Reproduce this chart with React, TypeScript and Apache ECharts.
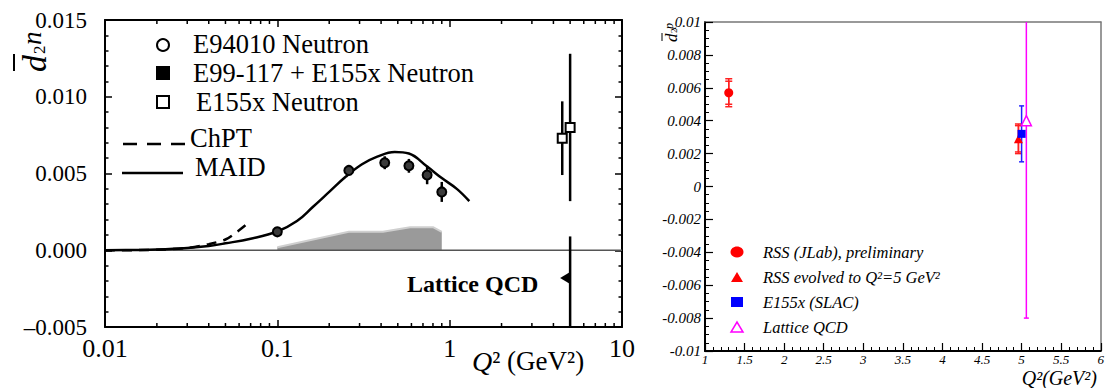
import React, { useEffect, useRef } from 'react';
import * as echarts from 'echarts';

// ---------- Left panel data ----------
const maidQ2 = [0.01, 0.015, 0.02, 0.03, 0.04, 0.05, 0.07, 0.1, 0.13, 0.16, 0.2, 0.25, 0.31, 0.38, 0.48, 0.58, 0.74, 0.9, 1.1, 1.3];
const maidD2 = [0, 0.00002, 0.00005, 0.00015, 0.00028, 0.00045, 0.00075, 0.00122, 0.0019, 0.0028, 0.0038, 0.0048, 0.0056, 0.0061, 0.0064, 0.0063, 0.00545, 0.0047, 0.004, 0.0032];
const chptQ2 = [0.01, 0.02, 0.03, 0.04, 0.05, 0.06, 0.07];
const chptD2 = [0, 0.00003, 0.00015, 0.0004, 0.0007, 0.0013, 0.0019];
const bandQ2 = [0.1, 0.26, 0.41, 0.59, 0.8, 0.9];
const bandD2 = [0.0002, 0.0012, 0.0012, 0.0015, 0.0015, 0.0012];
const e94010Q2 = [0.1, 0.26, 0.42, 0.58, 0.74, 0.9];
const e94010D2 = [0.0012, 0.0052, 0.0057, 0.0055, 0.0049, 0.0038];
const e94010Err = [0.0001, 0.0002, 0.00042, 0.00045, 0.0006, 0.00065];
const e155nQ2 = [4.5, 5.0];
const e155nD2 = [0.0073, 0.008];
const e155nErr = [0.0024, 0.0048];
const latticeNQ2 = [5.0];
const latticeND2 = [-0.0018];
const latticeNErrPlus = [0.0027];
const latticeNErrMinus = [0.0035];
const logMinorTicks = [0.02, 0.03, 0.04, 0.05, 0.06, 0.07, 0.08, 0.09, 0.2, 0.3, 0.4, 0.5, 0.6, 0.7, 0.8, 0.9, 2, 3, 4, 5, 6, 7, 8, 9];
const leftXTickLabels = ['0.01', '0.1', '1', '10'];

// ---------- Right panel data ----------
const rssQ2 = [1.3];
const rssD2 = [0.0057];
const rssStat = [0.0007];
const rssTot = [0.00085];
const rssEvQ2 = [4.96];
const rssEvD2 = [0.0029];
const rssEvStat = [0.0008];
const rssEvTot = [0.0009];
const e155pQ2 = [5.0];
const e155pD2 = [0.0032];
const e155pErr = [0.0017];
const latticePQ2 = [5.06];
const latticePD2 = [0.004];
const latticePErr = [0.012];

const SERIF = 'Liberation Serif, serif';

const zip = (xs: number[], ys: number[]) => xs.map((x, i) => [x, ys[i]]);

function errBars(xIdx: number, yIdx: number, xs: number[], ys: number[], minus: number[], plus: number[], color: string, width: number, cap: number, z: number) {
  return {
    type: 'custom',
    xAxisIndex: xIdx,
    yAxisIndex: yIdx,
    clip: true,
    silent: true,
    z,
    data: xs.map((x, i) => [x, ys[i] - minus[i], ys[i] + plus[i]]),
    encode: { x: 0, y: [1, 2] },
    renderItem: (params: any, api: any) => {
      const x = api.value(0), lo = api.value(1), hi = api.value(2);
      const a = api.coord([x, lo]);
      const b = api.coord([x, hi]);
      const st = { stroke: color, lineWidth: width };
      const children: any[] = [{ type: 'line', shape: { x1: a[0], y1: a[1], x2: b[0], y2: b[1] }, style: st }];
      if (cap > 0) {
        children.push({ type: 'line', shape: { x1: a[0] - cap, y1: a[1], x2: a[0] + cap, y2: a[1] }, style: st });
        children.push({ type: 'line', shape: { x1: b[0] - cap, y1: b[1], x2: b[0] + cap, y2: b[1] }, style: st });
      }
      return { type: 'group', children };
    },
  };
}

function txt(x: number, y: number, text: string, size: number, opts: any = {}) {
  return {
    type: 'text', x, y,
    style: {
      text,
      fontFamily: SERIF,
      fontSize: size,
      fontStyle: opts.italic ? 'italic' : 'normal',
      fontWeight: opts.bold ? 'bold' : 'normal',
      fill: '#000',
      align: opts.align || 'left',
      verticalAlign: 'middle',
      textAlign: opts.align || 'left',
      textVerticalAlign: 'middle',
    },
  };
}

const axisBlack = { show: true, onZero: false, lineStyle: { color: '#000', width: 2 } };

const option: any = {
  animation: false,
  backgroundColor: '#fff',
  textStyle: { fontFamily: SERIF },
  grid: [
    { left: 105, top: 20, width: 517, height: 307 },
    { left: 705, top: 22, width: 398, height: 329 },
  ],
  xAxis: [
    {
      gridIndex: 0, type: 'log', logBase: 10, min: 0.01, max: 10, position: 'bottom',
      axisLine: axisBlack,
      axisTick: { show: true, inside: true, length: 7, lineStyle: { color: '#000', width: 1.5 } },
      axisLabel: {
        fontFamily: SERIF, fontSize: 26, color: '#000', margin: 8,
        formatter: (v: number) => (v < 0.03 ? leftXTickLabels[0] : v < 0.3 ? leftXTickLabels[1] : v < 3 ? leftXTickLabels[2] : leftXTickLabels[3]),
      },
      splitLine: { show: false },
    },
    {
      gridIndex: 0, type: 'log', logBase: 10, min: 0.01, max: 10, position: 'top',
      axisLine: axisBlack,
      axisTick: { show: true, inside: true, length: 7, lineStyle: { color: '#000', width: 1.5 } },
      axisLabel: { show: false },
      splitLine: { show: false },
    },
    {
      gridIndex: 1, type: 'value', min: 1, max: 6, interval: 0.5, position: 'bottom',
      axisLine: axisBlack,
      axisTick: { show: true, inside: true, length: 8, lineStyle: { color: '#000', width: 1.2 } },
      minorTick: { show: true, splitNumber: 5, length: 4, lineStyle: { color: '#000', width: 1 } },
      axisLabel: { fontFamily: SERIF, fontStyle: 'italic', fontSize: 13, color: '#000', margin: 2 },
      splitLine: { show: false },
    },
    {
      gridIndex: 1, type: 'value', min: 1, max: 6, position: 'top',
      axisLine: { show: true, onZero: false, lineStyle: { color: '#777', width: 1.5 } },
      axisTick: { show: false }, axisLabel: { show: false }, splitLine: { show: false },
    },
  ],
  yAxis: [
    {
      gridIndex: 0, type: 'value', min: -0.005, max: 0.015, interval: 0.005,
      axisLine: axisBlack,
      axisTick: { show: true, inside: true, length: 7, lineStyle: { color: '#000', width: 1.5 } },
      minorTick: { show: true, splitNumber: 5, length: 3.5, lineStyle: { color: '#000', width: 1.5 } },
      axisLabel: {
        fontFamily: SERIF, fontSize: 23, color: '#000', margin: 18,
        formatter: (v: number) => (v < 0 ? '\u2013' + (-v).toFixed(3) : v.toFixed(3)),
      },
      splitLine: { show: false },
    },
    {
      gridIndex: 0, type: 'value', min: -0.005, max: 0.015, interval: 0.005, position: 'right',
      axisLine: axisBlack,
      axisTick: { show: true, inside: true, length: 7, lineStyle: { color: '#000', width: 1.5 } },
      minorTick: { show: true, splitNumber: 5, length: 3.5, lineStyle: { color: '#000', width: 1.5 } },
      axisLabel: { show: false },
      splitLine: { show: false },
    },
    {
      gridIndex: 1, type: 'value', min: -0.01, max: 0.01, interval: 0.002,
      axisLine: axisBlack,
      axisTick: { show: true, inside: true, length: 8, lineStyle: { color: '#000', width: 1.2 } },
      minorTick: { show: true, splitNumber: 4, length: 4, lineStyle: { color: '#000', width: 1 } },
      axisLabel: { fontFamily: SERIF, fontStyle: 'italic', fontSize: 15, color: '#000', margin: 4 },
      splitLine: { show: false },
    },
    {
      gridIndex: 1, type: 'value', min: -0.01, max: 0.01, position: 'right',
      axisLine: { show: true, onZero: false, lineStyle: { color: '#777', width: 1.5 } },
      axisTick: { show: false }, axisLabel: { show: false }, splitLine: { show: false },
    },
  ],
  series: [
    {
      name: 'band', type: 'line', xAxisIndex: 0, yAxisIndex: 0, data: zip(bandQ2, bandD2),
      symbol: 'none', silent: true, z: 1,
      lineStyle: { color: '#cfcfcf', width: 2 },
      areaStyle: { color: '#9a9a9a', opacity: 1, origin: 'auto' },
    },
    {
      name: 'zero', type: 'line', xAxisIndex: 0, yAxisIndex: 0, data: [[0.01, 0], [10, 0]],
      symbol: 'none', silent: true, z: 2, lineStyle: { color: '#555', width: 1.5 },
    },
    {
      name: 'ChPT', type: 'line', xAxisIndex: 0, yAxisIndex: 0, data: zip(chptQ2, chptD2),
      symbol: 'none', smooth: 0.3, z: 3, lineStyle: { color: '#000', width: 2.5, type: [10, 7] },
    },
    {
      name: 'MAID', type: 'line', xAxisIndex: 0, yAxisIndex: 0, data: zip(maidQ2, maidD2),
      symbol: 'none', smooth: 0.4, z: 3, lineStyle: { color: '#000', width: 2.5 },
    },
    errBars(0, 0, e94010Q2, e94010D2, e94010Err, e94010Err, '#000', 2.5, 0, 4),
    {
      name: 'E94010 Neutron', type: 'scatter', xAxisIndex: 0, yAxisIndex: 0, data: zip(e94010Q2, e94010D2),
      symbol: 'circle', symbolSize: 9, z: 5,
      itemStyle: { color: '#3a3a3a', borderColor: '#000', borderWidth: 2, opacity: 1 },
    },
    errBars(0, 0, e155nQ2, e155nD2, e155nErr, e155nErr, '#000', 2.5, 0, 4),
    {
      name: 'E155x Neutron', type: 'scatter', xAxisIndex: 0, yAxisIndex: 0, data: zip(e155nQ2, e155nD2),
      symbol: 'rect', symbolSize: 9, z: 5,
      itemStyle: { color: '#fff', borderColor: '#000', borderWidth: 2, opacity: 1 },
    },
    errBars(0, 0, latticeNQ2, latticeND2, latticeNErrMinus, latticeNErrPlus, '#000', 2.5, 0, 4),
    {
      name: 'Lattice QCD (n)', type: 'scatter', xAxisIndex: 0, yAxisIndex: 0, data: zip(latticeNQ2, latticeND2),
      symbol: 'triangle', symbolSize: [12, 10], symbolRotate: 90, symbolOffset: [-5, 0], z: 5,
      itemStyle: { color: '#000', opacity: 1 },
    },
    {
      name: 'logMinor', type: 'custom', xAxisIndex: 0, yAxisIndex: 0, silent: true, clip: false, z: 6,
      data: logMinorTicks.map((v) => [v, 0]),
      encode: { x: 0, y: 1 },
      renderItem: (params: any, api: any) => {
        const x = api.value(0);
        const b = api.coord([x, -0.005]);
        const t = api.coord([x, 0.015]);
        const st = { stroke: '#000', lineWidth: 1.5 };
        return {
          type: 'group',
          children: [
            { type: 'line', shape: { x1: b[0], y1: b[1], x2: b[0], y2: b[1] - 4 }, style: st },
            { type: 'line', shape: { x1: t[0], y1: t[1], x2: t[0], y2: t[1] + 4 }, style: st },
          ],
        };
      },
    },
    // ---- right panel ----
    errBars(2, 2, rssQ2, rssD2, rssTot, rssTot, '#ff2020', 1.5, 3.5, 4),
    errBars(2, 2, rssQ2, rssD2, rssStat, rssStat, '#ff2020', 1.5, 3.5, 4),
    {
      name: 'RSS (JLab), preliminary', type: 'scatter', xAxisIndex: 2, yAxisIndex: 2, data: zip(rssQ2, rssD2),
      symbol: 'circle', symbolSize: 9, z: 5, itemStyle: { color: '#ff0000', opacity: 1 },
    },
    errBars(2, 2, rssEvQ2, rssEvD2, rssEvTot, rssEvTot, '#ff2020', 1.5, 3.5, 4),
    errBars(2, 2, rssEvQ2, rssEvD2, rssEvStat, rssEvStat, '#ff2020', 1.5, 3.5, 4),
    {
      name: 'RSS evolved to Q²=5 GeV²', type: 'scatter', xAxisIndex: 2, yAxisIndex: 2, data: zip(rssEvQ2, rssEvD2),
      symbol: 'triangle', symbolSize: 9, z: 5, itemStyle: { color: '#ff0000', opacity: 1 },
    },
    errBars(2, 2, e155pQ2, e155pD2, e155pErr, e155pErr, '#2020ff', 1.5, 2.5, 4),
    {
      name: 'E155x (SLAC)', type: 'scatter', xAxisIndex: 2, yAxisIndex: 2, data: zip(e155pQ2, e155pD2),
      symbol: 'rect', symbolSize: 8, z: 5, itemStyle: { color: '#0000ff', opacity: 1 },
    },
    errBars(2, 2, latticePQ2, latticePD2, latticePErr, latticePErr, '#ff00ff', 1.5, 2.5, 4),
    {
      name: 'Lattice QCD', type: 'scatter', xAxisIndex: 2, yAxisIndex: 2, data: zip(latticePQ2, latticePD2),
      symbol: 'triangle', symbolSize: 10, z: 5,
      itemStyle: { color: '#fff', borderColor: '#ff00ff', borderWidth: 1.5, opacity: 1 },
    },
  ],
  graphic: [
    // left y title
    {
      type: 'group', x: 47, y: 72, rotation: Math.PI / 2,
      children: [
        txt(0, -13, 'd', 34, { italic: true }),
        { type: 'line', shape: { x1: 1, y1: -33, x2: 18, y2: -33 }, style: { stroke: '#000', lineWidth: 2 } },
        txt(18, -8, '2', 17),
        txt(27, -15, 'n', 27, { italic: true }),
      ],
    },
    // left legend
    { type: 'circle', shape: { cx: 163, cy: 45, r: 6 }, style: { fill: '#fff', stroke: '#000', lineWidth: 2 } },
    { type: 'rect', shape: { x: 156, y: 66, width: 14, height: 14 }, style: { fill: '#000' } },
    { type: 'rect', shape: { x: 157, y: 96, width: 12, height: 12 }, style: { fill: '#fff', stroke: '#000', lineWidth: 2 } },
    { type: 'line', shape: { x1: 123, y1: 144, x2: 186, y2: 144 }, style: { stroke: '#000', lineWidth: 2.5, lineDash: [14, 10] } },
    { type: 'line', shape: { x1: 122, y1: 173, x2: 183, y2: 173 }, style: { stroke: '#000', lineWidth: 2.5 } },
    txt(193, 44, 'E94010 Neutron', 26.5),
    txt(193, 73, 'E99-117 + E155x Neutron', 26.5),
    txt(196, 102, 'E155x Neutron', 26.5),
    txt(190, 138, 'ChPT', 26.5),
    txt(195, 167, 'MAID', 26.5),
    txt(407, 284, 'Lattice QCD', 24, { bold: true }),
    // left x title
    {
      type: 'text', x: 472, y: 361,
      style: {
        text: '{i|Q}{r|² (GeV²)}', fill: '#000', align: 'left', verticalAlign: 'middle', textAlign: 'left', textVerticalAlign: 'middle',
        rich: {
          i: { fontFamily: SERIF, fontStyle: 'italic', fontSize: 28, fill: '#000' },
          r: { fontFamily: SERIF, fontSize: 27, fill: '#000' },
        },
      },
    },
    // right y title
    {
      type: 'group', x: 677, y: 42, rotation: Math.PI / 2,
      children: [
        txt(0, -6, 'd', 17, { italic: true }),
        { type: 'line', shape: { x1: 1, y1: -15, x2: 9, y2: -15 }, style: { stroke: '#000', lineWidth: 1 } },
        txt(9, -3, '2', 9),
        txt(13, -8, 'p', 12, { italic: true }),
      ],
    },
    // right legend
    { type: 'ellipse', shape: { cx: 737, cy: 252, rx: 6.5, ry: 5.5 }, style: { fill: '#ff0000' } },
    { type: 'polygon', shape: { points: [[731, 282], [743, 282], [737, 272]] }, style: { fill: '#ff0000' } },
    { type: 'rect', shape: { x: 731, y: 297, width: 12, height: 10 }, style: { fill: '#0000ff' } },
    { type: 'polygon', shape: { points: [[731, 332], [743, 332], [737, 322]] }, style: { fill: '#fff', stroke: '#ff00ff', lineWidth: 1.5 } },
    txt(763, 252, 'RSS (JLab), preliminary', 16.5, { italic: true }),
    txt(763, 277, 'RSS evolved to Q²=5 GeV²', 16.5, { italic: true }),
    txt(763, 302, 'E155x (SLAC)', 16.5, { italic: true }),
    txt(763, 327, 'Lattice QCD', 16.5, { italic: true }),
    // right x title
    txt(1097, 378, 'Q²(GeV²)', 20, { italic: true, align: 'right' }),
  ],
};

export default function App() {
  const ref = useRef<HTMLDivElement>(null);
  useEffect(() => {
    if (!ref.current) return;
    const chart = echarts.init(ref.current, null, { renderer: 'svg' });
    chart.setOption(option);
    return () => chart.dispose();
  }, []);
  return (
    <div
      ref={ref}
      style={{ position: 'fixed', left: 0, top: 0, width: 1107, height: 388, background: '#fff' }}
    />
  );
}
